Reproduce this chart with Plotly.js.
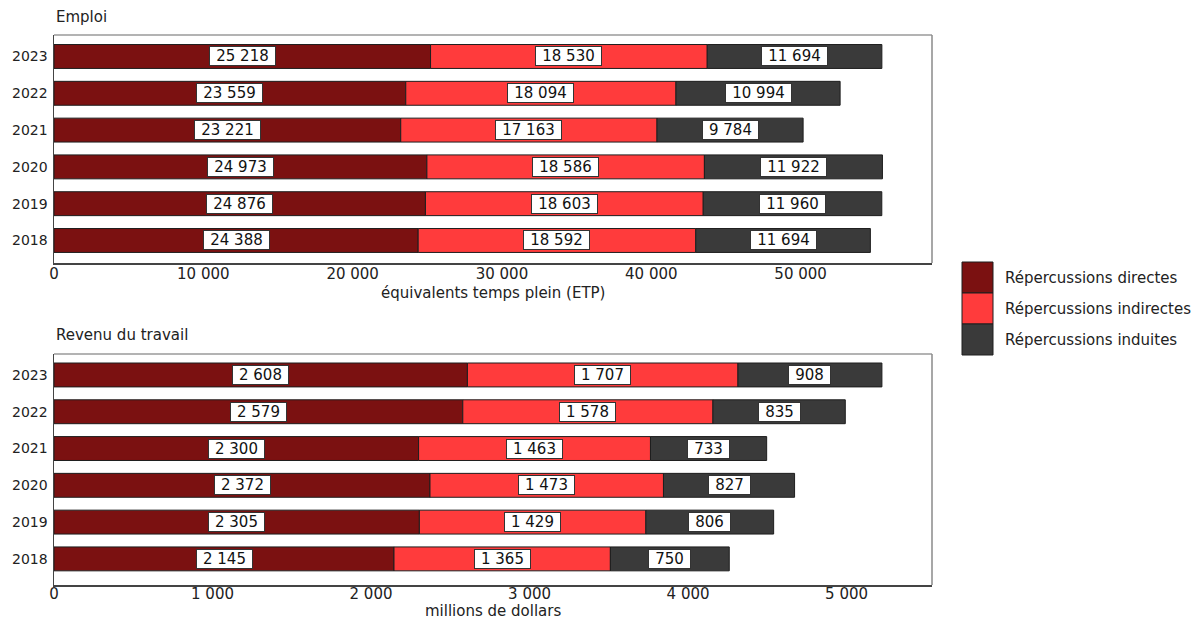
<!DOCTYPE html>
<html>
<head>
<meta charset="utf-8">
<script src="https://cdn.plot.ly/plotly-3.0.1.min.js"></script>
<style>html,body{margin:0;padding:0;background:#fff;}#chart{width:1196px;height:620px;}</style>
</head>
<body>
<div id="chart"></div>
<script>
// ---- data ----
const years = ["2018", "2019", "2020", "2021", "2022", "2023"];
const seriesNames = ["Répercussions directes", "Répercussions indirectes", "Répercussions induites"];
const emploiDirect   = [24388, 24876, 24973, 23221, 23559, 25218];
const emploiIndirect = [18592, 18603, 18586, 17163, 18094, 18530];
const emploiInduit   = [11694, 11960, 11922, 9784, 10994, 11694];
const revenuDirect   = [2145, 2305, 2372, 2300, 2579, 2608];
const revenuIndirect = [1365, 1429, 1473, 1463, 1578, 1707];
const revenuInduit   = [750, 806, 827, 733, 835, 908];
const panelTitles = ["Emploi", "Revenu du travail"];
const axisTitles = ["équivalents temps plein (ETP)", "millions de dollars"];
const emploiTicks = [0, 10000, 20000, 30000, 40000, 50000];
const revenuTicks = [0, 1000, 2000, 3000, 4000, 5000];

// ---- style ----
const colors = ["#7b1111", "#ff3b3c", "#3a3a3a"];
const FONT = "DejaVu Sans, sans-serif";
const FS = 15;
const W = 1196, H = 620;
const M = {l: 54, r: 264, t: 35, b: 35};
const PW = W - M.l - M.r, PH = H - M.t - M.b;
const px2x = p => (p - M.l) / PW;
const py2y = p => 1 - (p - M.t) / PH;

function fmt(n) {
  return String(n).replace(/\B(?=(\d{3})+(?!\d))/g, " ");
}
function boxWidth(s) {
  let w = 0;
  for (const c of s) w += (c === " " ? 0.318 : 0.636) * FS;
  return Math.ceil(w) + 10;
}

const emploi = [emploiDirect, emploiIndirect, emploiInduit];
const revenu = [revenuDirect, revenuIndirect, revenuInduit];

const traces = [];
const annotations = [];
function addPanel(sets, xa, ya) {
  const base = years.map(() => 0);
  sets.forEach((vals, i) => {
    traces.push({
      type: "bar", orientation: "h",
      y: years, x: vals, base: base.slice(),
      xaxis: xa, yaxis: ya, width: 0.65,
      name: seriesNames[i], showlegend: false,
      marker: {color: colors[i], line: {color: "#1e1e1e", width: 1}},
      hoverinfo: "x+y"
    });
    vals.forEach((v, k) => {
      const t = fmt(v);
      annotations.push({
        xref: xa, yref: ya, x: base[k] + v / 2, y: k,
        text: t, showarrow: false, width: boxWidth(t), height: 16,
        font: {family: FONT, size: FS, color: "#111"},
        bgcolor: "#ffffff", bordercolor: "#333", borderwidth: 1, borderpad: 1
      });
      base[k] += v;
    });
  });
}
addPanel(emploi, "x", "y");
addPanel(revenu, "x2", "y2");

const txtFont = {family: FONT, size: FS, color: "#222"};
// panel titles
annotations.push({xref: "paper", yref: "paper", x: 0, y: py2y(17), xanchor: "left", yanchor: "middle",
  text: panelTitles[0], showarrow: false, font: txtFont});
annotations.push({xref: "paper", yref: "paper", x: 0, y: py2y(335), xanchor: "left", yanchor: "middle",
  text: panelTitles[1], showarrow: false, font: txtFont});
// x-axis titles
annotations.push({xref: "paper", yref: "paper", x: 0.5, y: py2y(293), xanchor: "center", yanchor: "middle",
  text: axisTitles[0], showarrow: false, font: txtFont});
annotations.push({xref: "paper", yref: "paper", x: 0.5, y: py2y(611), xanchor: "center", yanchor: "middle",
  text: axisTitles[1], showarrow: false, font: txtFont});

// legend (custom, large swatches)
const shapes = [];
const legTop = 262, legH = 31;
seriesNames.forEach((nm, i) => {
  shapes.push({type: "rect", xref: "paper", yref: "paper",
    x0: px2x(962), x1: px2x(993), y0: py2y(legTop + i * legH), y1: py2y(legTop + (i + 1) * legH),
    fillcolor: colors[i], line: {color: "#1e1e1e", width: 1}});
  annotations.push({xref: "paper", yref: "paper", x: px2x(1003), y: py2y(legTop + (i + 0.5) * legH),
    xanchor: "left", yanchor: "middle", text: nm, showarrow: false, font: txtFont});
});

// frames: light top/right, dark left/bottom
const topY = [py2y(35), py2y(263)];
const botY = [py2y(354), py2y(585)];
[topY, botY].forEach(([y1, y0]) => {
  shapes.push({type: "line", xref: "paper", yref: "paper", x0: 0, x1: 1, y0: y1, y1: y1, line: {color: "#9a9a9a", width: 1.5}});
  shapes.push({type: "line", xref: "paper", yref: "paper", x0: 1, x1: 1, y0: y0, y1: y1, line: {color: "#8a8a8a", width: 1.5}});
});

const tickFont = {family: FONT, size: FS, color: "#222"};
const yTickFont = {family: FONT, size: 14, color: "#222"};
const layout = {
  width: W, height: H,
  margin: M,
  paper_bgcolor: "#fff", plot_bgcolor: "#fff",
  separators: ". ",
  showlegend: false,
  barmode: "overlay",
  xaxis: {domain: [0, 1], anchor: "y", range: [0, 58800], tickvals: emploiTicks,
    tickformat: ",d", separatethousands: true, showgrid: false, zeroline: false,
    showline: true, linecolor: "#444", linewidth: 1.5, ticks: "", tickfont: tickFont,
    ticklabelstandoff: -4},
  yaxis: {domain: [py2y(263), 1], anchor: "x", range: [-0.612, 5.584], type: "category",
    showgrid: false, zeroline: false, showline: true, linecolor: "#444", linewidth: 1.5,
    ticks: "", tickfont: yTickFont, ticklabelstandoff: 2},
  xaxis2: {domain: [0, 1], anchor: "y2", range: [0, 5539], tickvals: revenuTicks,
    tickformat: ",d", separatethousands: true, showgrid: false, zeroline: false,
    showline: true, linecolor: "#444", linewidth: 1.5, ticks: "", tickfont: tickFont,
    ticklabelstandoff: -6},
  yaxis2: {domain: [0, py2y(354)], anchor: "x2", range: [-0.71, 5.57], type: "category",
    showgrid: false, zeroline: false, showline: true, linecolor: "#444", linewidth: 1.5,
    ticks: "", tickfont: yTickFont, ticklabelstandoff: 2},
  annotations: annotations,
  shapes: shapes
};

Plotly.newPlot("chart", traces, layout, {displayModeBar: false, staticPlot: true});
</script>
</body>
</html>
